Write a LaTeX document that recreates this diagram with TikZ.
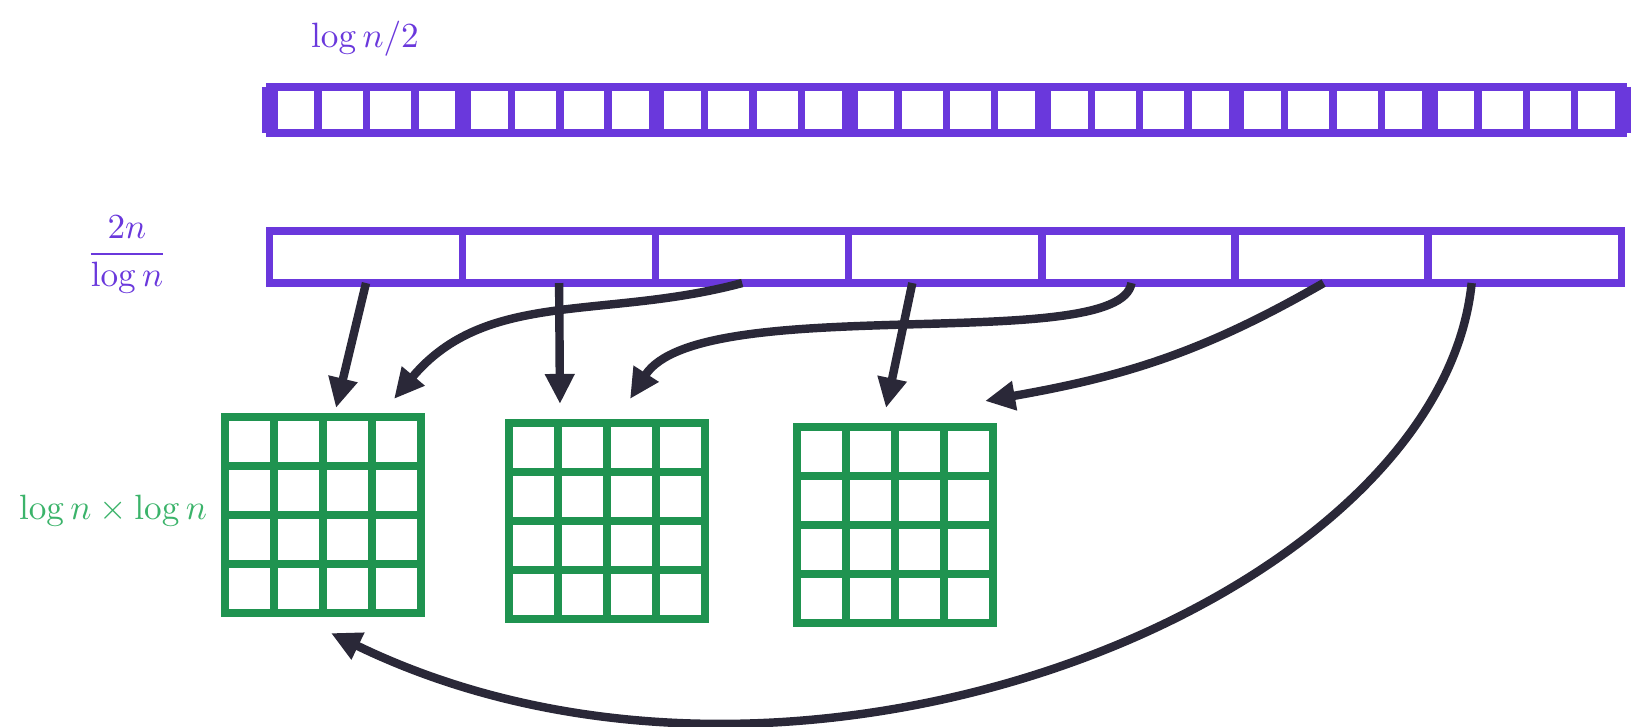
\documentclass[tikz,border=0pt]{standalone}
\usepackage{amsmath}
\usetikzlibrary{arrows.meta,positioning,calc}
\definecolor{pnViolet}{HTML}{6A38DC}
\definecolor{pnGreen}{HTML}{1F9350}
\definecolor{pnMint}{HTML}{3BB36A}
\definecolor{pnInk}{HTML}{2A2838}
\tikzset{
  wcell/.style={draw=pnViolet, line width=2.1pt, minimum width=0.483cm, minimum height=0.46cm, inner sep=0pt, outer sep=0pt},
  bcell/.style={wcell, minimum width=1.93cm, minimum height=0.52cm},
  bsep/.style={draw=pnViolet, line width=4.5pt},
  sq/.style={draw=pnGreen, line width=2.4pt, minimum size=1.96cm, inner sep=0pt, outer sep=0pt},
  gl/.style={draw=pnGreen, line width=2.4pt},
  ptr/.style={-{Triangle[length=0.3cm,width=0.28cm]}, line width=2.4pt, draw=pnInk},
  lbl/.style={text=pnViolet},
}
\begin{document}
\begin{tikzpicture}[x=0.01cm, y=0.01cm]
\useasboundingbox (0,0) rectangle (1634,726);
% word array
\node[wcell] (t1) at (294,616) {};
\foreach \i [count=\j from 2] in {1,...,27}
  \node[wcell, right=0pt of t\i] (t\j) {};
\foreach \i in {1,5,...,25}
  \draw[bsep] (t\i.north west) -- (t\i.south west);
\draw[bsep] (t28.north east) -- (t28.south east);
% block array
\node[bcell] (c1) at (366,469) {};
\foreach \i [count=\j from 2] in {1,...,6}
  \node[bcell, right=0pt of c\i] (c\j) {};
% labels
\node[lbl] (wlen) at (365,687) {$\log n/2$};
\node[lbl] (nblk) at (127,471) {$\dfrac{2n}{\log n}$};
\node[text=pnMint] (gdim) at (113,215) {$\log n\times\log n$};
% tables
\node[sq] (g1) at (323,211) {};
\node[sq] (g2) at (607,205) {};
\node[sq] (g3) at (895,201) {};
\foreach \g in {g1,g2,g3}
  \foreach \k in {1,2,3} {
    \draw[gl] ($(\g.south west)!\k/4!(\g.south east)$) -- ($(\g.north west)!\k/4!(\g.north east)$);
    \draw[gl] ($(\g.south west)!\k/4!(\g.north west)$) -- ($(\g.south east)!\k/4!(\g.north east)$);
  }
% pointers
\draw[ptr] (c1.south) -- ([xshift=0.13cm, yshift=0.09cm]g1.north);
\draw[ptr] ([xshift=-0.1cm]c3.south) to[out=195, in=50] ([xshift=0.71cm, yshift=0.18cm]g1.north);
\draw[ptr] (c2.south) -- ([xshift=-0.47cm, yshift=0.19cm]g2.north);
\draw[ptr] ([xshift=-0.07cm]c5.south) .. controls +(-11,-73) and +(70,109) .. ([xshift=0.23cm, yshift=0.24cm]g2.north);
\draw[ptr] ([xshift=-0.33cm]c4.south) -- ([xshift=-0.09cm, yshift=0.19cm]g3.north);
\draw[ptr] ([xshift=-0.08cm]c6.south) to[out=210, in=10] ([xshift=0.9cm, yshift=0.26cm]g3.north);
\draw[ptr] ([xshift=-0.53cm]c7.south) .. controls +(-32,-317) and +(469,-227) .. ([xshift=0.08cm, yshift=-0.2cm]g1.south);
\end{tikzpicture}
\end{document}
